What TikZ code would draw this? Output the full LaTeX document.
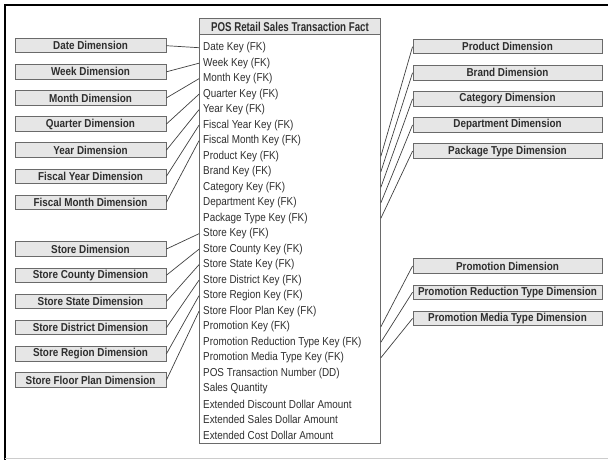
\documentclass[tikz,border=0pt]{standalone}
\usepackage{fontspec}
\setmainfont[FakeStretch=0.86]{Liberation Sans}
\newfontfamily\headfont[FakeStretch=0.76]{Liberation Sans}
\definecolor{txt}{HTML}{2E2E2E}
\definecolor{boxfill}{HTML}{E6E6E6}
\definecolor{boxline}{HTML}{6A6A6A}
\tikzset{
  dimbox/.style={draw=boxline, fill=boxfill, line width=0.9pt, minimum height=14.5pt, inner sep=0pt,
    font=\bfseries\fontsize{11.5}{13}\selectfont, text=txt},
  ldim/.style={dimbox, minimum width=151pt},
  rdim/.style={dimbox, minimum width=189pt},
  rowtext/.style={anchor=west, inner sep=0pt, font=\fontsize{11.5}{13}\selectfont, text=txt},
  link/.style={draw=black!75, line width=0.7pt}
}
\begin{document}
\begin{tikzpicture}[x=1pt,y=-1pt]
\useasboundingbox (0,0) rectangle (608,460);
\draw[line width=2pt] (5,460) -- (5,5) -- (608,5);
\draw[gray!40, line width=1pt] (5,458.5) -- (608,458.5);
\node[draw=boxline, line width=0.9pt, minimum width=181pt, minimum height=424.5pt, anchor=north west, inner sep=0pt] (fact) at (199,18.5) {};
\node[draw=boxline, fill=boxfill, line width=0.9pt, minimum width=181pt, minimum height=15.5pt, anchor=north west, inner sep=0pt, font=\headfont\bfseries\fontsize{12.8}{14}\selectfont, text=txt] (head) at (199,18.5) {POS Retail Sales Transaction Fact};
\foreach \t [count=\i from 0] in {Date Key (FK), Week Key (FK), Month Key (FK), Quarter Key (FK), Year Key (FK), Fiscal Year Key (FK), Fiscal Month Key (FK), Product Key (FK), Brand Key (FK), Category Key (FK), Department Key (FK), Package Type Key (FK), Store Key (FK), Store County Key (FK), Store State Key (FK), Store District Key (FK), Store Region Key (FK), Store Floor Plan Key (FK), Promotion Key (FK), Promotion Reduction Type Key (FK), Promotion Media Type Key (FK), POS Transaction Number (DD), Sales Quantity, Extended Discount Dollar Amount, Extended Sales Dollar Amount, Extended Cost Dollar Amount}
  \node[rowtext] (r\i) at (203,{47.7+15.5*\i}) {\t};
\foreach \t [count=\i from 0] in {Date Dimension, Week Dimension, Month Dimension, Quarter Dimension, Year Dimension, Fiscal Year Dimension, Fiscal Month Dimension}{
  \node[ldim] (ld\i) at (90.5,{45.7+26.1*\i}) {\t};
  \draw[link] (ld\i.east) -- (fact.west |- r\i);
}
\foreach \t [count=\i from 0] in {Store Dimension, Store County Dimension, Store State Dimension, Store District Dimension, Store Region Dimension, Store Floor Plan Dimension}{
  \node[ldim] (sd\i) at (90.5,{249+26.2*\i}) {\t};
  \pgfmathtruncatemacro\j{\i+12}
  \draw[link] (sd\i.east) -- (fact.west |- r\j);
}
\foreach \t [count=\i from 0] in {Product Dimension, Brand Dimension, Category Dimension, Department Dimension, Package Type Dimension}{
  \node[rdim] (pd\i) at (507.5,{46.7+26.1*\i}) {\t};
  \pgfmathtruncatemacro\j{\i+7}
  \draw[link] (fact.east |- r\j) -- (pd\i.west);
}
\foreach \t [count=\i from 0] in {Promotion Dimension, Promotion Reduction Type Dimension, Promotion Media Type Dimension}{
  \node[rdim] (md\i) at (507.5,{266+26.2*\i}) {\t};
  \pgfmathtruncatemacro\j{\i+18}
  \draw[link] (fact.east |- r\j) -- (md\i.west);
}
\end{tikzpicture}
\end{document}
